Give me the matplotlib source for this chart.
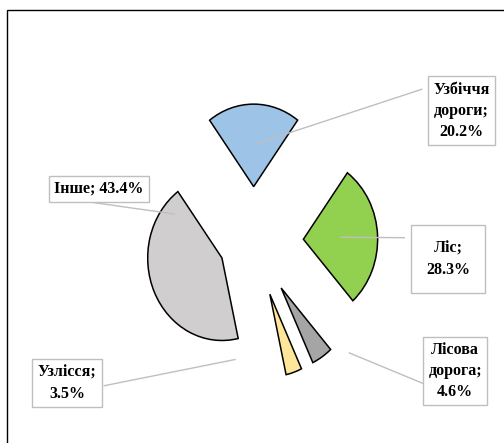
"""
Розподіл за типом місця — розсічена кругова діаграма з підписами в рамках.
"""
import matplotlib
matplotlib.use("Agg")
import matplotlib.pyplot as plt
from matplotlib.patches import Rectangle
import numpy as np

# дані
names = ["Узбіччя\nдороги", "Ліс", "Лісова\nдорога", "Узлісся", "Інше"]
shares = [20.2, 28.3, 4.6, 3.5, 43.4]
colors = ["#9DC3E6", "#92D050", "#A5A5A5", "#FFE699", "#D0CECE"]

# оформлення
explode = [0.67, 0.67, 0.67, 0.67, 0.47]
separators = ["\n", "\n", "\n", "\n", " "]
W, H, DPI = 504, 443, 100
SX, SY = 74.25, 82.5          # пікселів на радіус (по x і по y)
CX, CY = 253.7, 241.9         # центр круга, пікселі від верхнього лівого кута

# рамки підписів: left, top, right, bottom (пікселі)
boxes = [(427.7, 76.3, 495.3, 145.3), (411, 225, 485, 293), (423.3, 336.7, 487, 405),
         (32.3, 359.3, 102, 407), (49.3, 175.7, 148.7, 202.3)]
# початок виносної лінії біля рамки (пікселі)
line_starts = [(421.7, 89.3), (404.3, 237.7), (422.7, 383.3), (104.3, 385.7), (94.3, 202.7)]
# точка прив'язки до сектора: кут і відстань від вершини сектора (у радіусах)
anchors = [(90, 0.51), (2.75, 0.5), (-40.6, 1.21), (-120.6, 0.92), (140.5, 0.84)]


def px(x, y):
    return (x - CX) / SX, (CY - y) / SY


fig = plt.figure(figsize=(W / DPI, H / DPI), dpi=DPI)
ax = fig.add_axes([0, 0, 1, 1])
wedges, _ = ax.pie(shares, colors=colors, explode=explode, startangle=126.4,
                   counterclock=False, radius=1,
                   wedgeprops=dict(edgecolor="black", linewidth=1.1))
ax.set_aspect("auto")
x0, y1 = px(0, 0)
x1, y0 = px(W, H)
ax.set_xlim(x0, x1)
ax.set_ylim(y0, y1)
ax.axis("off")

for w, name, sep, val, box, start, (ang, r) in zip(
        wedges, names, separators, shares, boxes, line_starts, anchors):
    cx, cy = w.center
    ax_, ay_ = cx + r * np.cos(np.radians(ang)), cy + r * np.sin(np.radians(ang))
    sx, sy = px(*start)
    ax.plot([sx, ax_], [sy, ay_], color="#BFBFBF", lw=1.0, zorder=5)

    l, t, rr, b = box
    bx, by = px(l, b)
    ax.add_patch(Rectangle((bx, by), (rr - l) / SX, (b - t) / SY, facecolor="white",
                           edgecolor="#BFBFBF", lw=1.0, clip_on=False, zorder=6))
    tx, ty = px((l + rr) / 2, (t + b) / 2)
    ax.text(tx, ty, f"{name};{sep}{val}%", ha="center", va="center", ma="center",
            family="Liberation Serif", fontweight="bold", fontsize=11.5,
            linespacing=1.42, zorder=7)

# зовнішня рамка
fx, fy = px(7, 460)
ax.add_patch(Rectangle((fx, fy), 513 / SX, 450 / SY, fill=False, edgecolor="black",
                       lw=1.0, clip_on=False, zorder=8))

fig.savefig("out.png", dpi=DPI)
plt.close(fig)
